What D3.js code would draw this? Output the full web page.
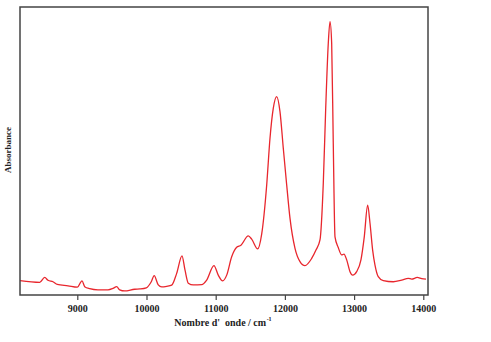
<!DOCTYPE html>
<html>
<head>
<meta charset="utf-8">
<script src="https://cdn.jsdelivr.net/npm/d3@7"></script>
<style>
  body { margin: 0; background: #fff; }
  .tick text { font-family: 'Liberation Serif', 'Times New Roman', serif; font-weight: bold; font-size: 10px; }
</style>
</head>
<body>
<div id="chart"></div>
<script>
// nombre d'onde (cm-1) et absorbance
var wavenumber = [8172, 8457, 8529, 8577, 8649, 8711, 8866, 9000, 9068, 9107, 9179, 9299, 9444, 9516, 9569, 9613,
  9685, 9829, 9906, 9997, 10069, 10111, 10170, 10220, 10292, 10364, 10436, 10513, 10556, 10604, 10676, 10798,
  10870, 10975, 11037, 11101, 11159, 11231, 11303, 11365, 11471, 11520, 11607, 11665, 11737, 11785, 11832,
  11881, 11929, 11977, 12026, 12074, 12146, 12218, 12290, 12387, 12449, 12507, 12555, 12589, 12627, 12652,
  12676, 12699, 12724, 12771, 12821, 12854, 12893, 12941, 12980, 13037, 13099, 13147, 13196, 13230, 13268,
  13302, 13349, 13422, 13566, 13688, 13783, 13832, 13913, 13977, 14039]
var absorbance = [0.050, 0.044, 0.061, 0.051, 0.046, 0.037, 0.032, 0.027, 0.049, 0.029, 0.022, 0.018, 0.018, 0.023, 0.029, 0.018,
  0.014, 0.020, 0.021, 0.025, 0.046, 0.067, 0.035, 0.028, 0.030, 0.034, 0.075, 0.136, 0.087, 0.041, 0.035, 0.036,
  0.052, 0.102, 0.069, 0.049, 0.069, 0.133, 0.166, 0.173, 0.205, 0.194, 0.160, 0.212, 0.382, 0.545, 0.648,
  0.689, 0.637, 0.509, 0.382, 0.266, 0.162, 0.116, 0.102, 0.127, 0.156, 0.191, 0.389, 0.642, 0.874, 0.949,
  0.874, 0.527, 0.202, 0.165, 0.139, 0.142, 0.122, 0.081, 0.069, 0.081, 0.122, 0.202, 0.312, 0.249, 0.156,
  0.104, 0.064, 0.050, 0.046, 0.052, 0.058, 0.055, 0.061, 0.057, 0.055]
var xTicks = [9000, 10000, 11000, 12000, 13000, 14000]

var width = 491, height = 342
var margin = { top: 7, right: 63, bottom: 47, left: 20 }

var svg = d3.select('#chart').append('svg')
  .attr('width', width)
  .attr('height', height)

var x = d3.scaleLinear()
  .domain([8172, 14068])
  .range([margin.left, width - margin.right])
var y = d3.scaleLinear()
  .domain([0, 1])
  .range([height - margin.bottom, margin.top])

var data = wavenumber.map((w, i) => ({ w: w, a: absorbance[i] }))

// axe x
svg.append('g')
  .attr('transform', 'translate(0,' + (height - margin.bottom) + ')')
  .call(d3.axisBottom(x).tickValues(xTicks).tickFormat(d3.format('d')).tickSize(5).tickPadding(5))
  .call(g => g.select('.domain').remove())
  .call(g => g.selectAll('.tick line').attr('stroke', '#444').attr('stroke-width', 1.2))
  .call(g => g.selectAll('.tick text').attr('fill', '#222'))

// courbe
svg.append('path')
  .datum(data)
  .attr('fill', 'none')
  .attr('stroke', '#e8262d')
  .attr('stroke-width', 1.3)
  .attr('d', d3.line().x(d => x(d.w)).y(d => y(d.a)).curve(d3.curveMonotoneX))

// cadre
svg.append('rect')
  .attr('x', margin.left)
  .attr('y', margin.top)
  .attr('width', width - margin.left - margin.right)
  .attr('height', height - margin.top - margin.bottom)
  .attr('fill', 'none')
  .attr('stroke', '#444')
  .attr('stroke-width', 1.5)

// titres
var title = svg.append('text')
  .attr('x', 223)
  .attr('y', 326)
  .attr('text-anchor', 'middle')
  .attr('font-family', "'Liberation Serif', serif")
  .attr('font-weight', 'bold')
  .attr('font-size', 10)
  .attr('fill', '#222')
  .style('white-space', 'pre')
title.append('tspan').text("Nombre d'  onde / cm")
title.append('tspan')
  .attr('dx', 0.5)
  .attr('dy', -5)
  .attr('font-size', 6)
  .text('-1')

svg.append('text')
  .attr('transform', 'translate(11,150) rotate(-90)')
  .attr('text-anchor', 'middle')
  .attr('font-family', "'Liberation Serif', serif")
  .attr('font-weight', 'bold')
  .attr('font-size', 9)
  .attr('fill', '#222')
  .text('Absorbance')
</script>
</body>
</html>
